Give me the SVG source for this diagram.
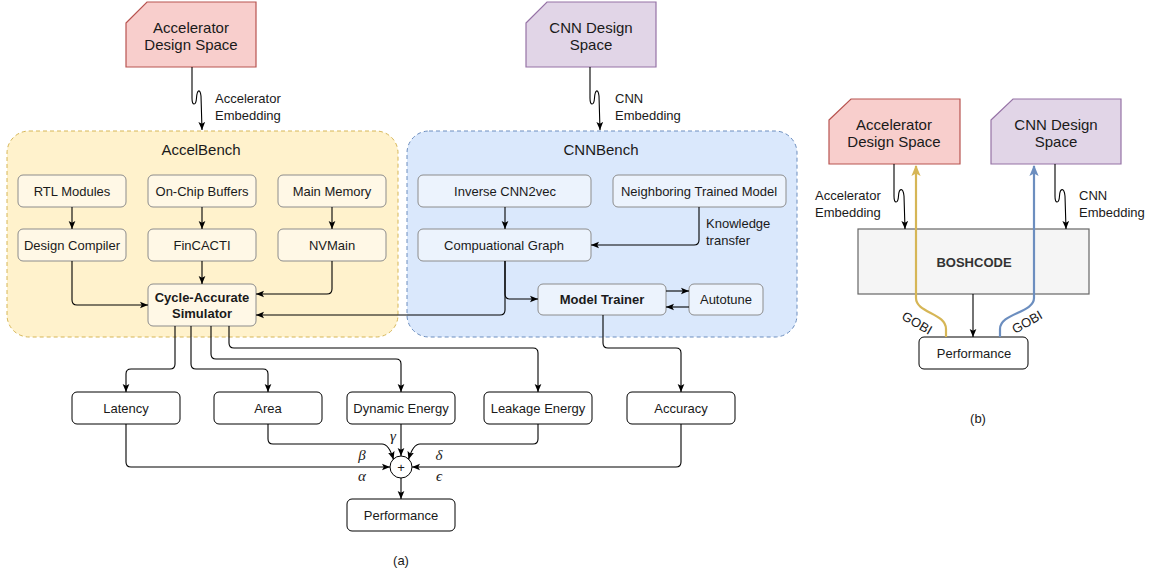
<svg xmlns="http://www.w3.org/2000/svg" width="1158" height="573" viewBox="0 0 1158 573">
  <defs>
    <style>
      text { font-family: "Liberation Sans", Arial, sans-serif; fill: #1a1a1a; }
      .t13 { font-size: 13px; text-anchor: middle; dominant-baseline: central; }
      .b13 { font-size: 13px; font-weight: bold; text-anchor: middle; dominant-baseline: central; }
      .t15 { font-size: 15px; text-anchor: middle; dominant-baseline: central; }
      .lbl { font-size: 13px; dominant-baseline: central; }
      .greek { font-family: "Liberation Serif", "DejaVu Serif", serif; font-style: italic; font-size: 15px; text-anchor: middle; dominant-baseline: central; }
      .cap { font-size: 13px; text-anchor: middle; dominant-baseline: central; }
      .accel-space { fill: #f8cecc; stroke: #b85450; stroke-width: 1.2; }
      .cnn-space { fill: #e1d5e7; stroke: #9673a6; stroke-width: 1.2; }
      .accel-box { fill: #fff2cc; stroke: #d6b656; stroke-dasharray: 4 3; }
      .cnn-box { fill: #dae8fc; stroke: #6c8ebf; stroke-dasharray: 4 3; }
      .accel-node { fill: #fff8e6; stroke: #8c8c8c; }
      .cnn-node { fill: #ecf3fd; stroke: #8c8c8c; }
      .plain { fill: #ffffff; stroke: #000000; }
      .bosh { fill: #f5f5f5; stroke: #666666; stroke-width: 1.2; }
      .edge { fill: none; stroke: #000000; stroke-width: 1.1; marker-end: url(#arr); }
      .gobi-y { fill: none; stroke: #d6b656; stroke-width: 2.2; marker-end: url(#arrY); }
      .gobi-b { fill: none; stroke: #6c8ebf; stroke-width: 2.2; marker-end: url(#arrB); }
    </style>
    <marker id="arr" viewBox="0 0 10 10" refX="10" refY="5" markerWidth="8" markerHeight="8" markerUnits="userSpaceOnUse" orient="auto">
      <path d="M0,0.8 L10,5 L0,9.2 L2.2,5 z" fill="#000"/>
    </marker>
    <marker id="arrY" viewBox="0 0 10 10" refX="9" refY="5" markerWidth="11" markerHeight="11" markerUnits="userSpaceOnUse" orient="auto">
      <path d="M0,0.8 L10,5 L0,9.2 L2.2,5 z" fill="#d6b656"/>
    </marker>
    <marker id="arrB" viewBox="0 0 10 10" refX="9" refY="5" markerWidth="11" markerHeight="11" markerUnits="userSpaceOnUse" orient="auto">
      <path d="M0,0.8 L10,5 L0,9.2 L2.2,5 z" fill="#6c8ebf"/>
    </marker>
  </defs>

  <!-- (a) containers -->
  <g id="accelbench">
    <rect class="accel-box" x="7" y="131" width="391" height="206" rx="22"/>
    <text class="t15" x="201" y="149">AccelBench</text>
  </g>
  <g id="cnnbench">
    <rect class="cnn-box" x="407" y="131" width="390" height="206" rx="22"/>
    <text class="t15" x="601" y="149">CNNBench</text>
  </g>

  <!-- (a) design spaces -->
  <g id="a-accel-space">
    <path class="accel-space" d="M126,23 L147,2 H256 V67 H126 Z"/>
    <text class="t15" x="191" y="27">Accelerator</text>
    <text class="t15" x="191" y="44">Design Space</text>
  </g>
  <g id="a-cnn-space">
    <path class="cnn-space" d="M526,23 L547,2 H656 V67 H526 Z"/>
    <text class="t15" x="591" y="27">CNN Design</text>
    <text class="t15" x="591" y="44">Space</text>
  </g>

  <!-- AccelBench nodes -->
  <g id="rtl-modules"><rect class="accel-node" x="18" y="175" width="108" height="32" rx="5"/><text class="t13" x="72" y="191">RTL Modules</text></g>
  <g id="on-chip-buffers"><rect class="accel-node" x="148" y="175" width="108" height="32" rx="5"/><text class="t13" x="202" y="191">On-Chip Buffers</text></g>
  <g id="main-memory"><rect class="accel-node" x="278" y="175" width="108" height="32" rx="5"/><text class="t13" x="332" y="191">Main Memory</text></g>
  <g id="design-compiler"><rect class="accel-node" x="18" y="229" width="108" height="32" rx="5"/><text class="t13" x="72" y="245">Design Compiler</text></g>
  <g id="fincacti"><rect class="accel-node" x="148" y="229" width="108" height="32" rx="5"/><text class="t13" x="202" y="245">FinCACTI</text></g>
  <g id="nvmain"><rect class="accel-node" x="278" y="229" width="108" height="32" rx="5"/><text class="t13" x="332" y="245">NVMain</text></g>
  <g id="simulator"><rect class="accel-node" x="148" y="284" width="108" height="42" rx="5"/><text class="b13" x="202" y="297">Cycle-Accurate</text><text class="b13" x="202" y="313">Simulator</text></g>

  <!-- CNNBench nodes -->
  <g id="inverse-cnn2vec"><rect class="cnn-node" x="418" y="175" width="173" height="32" rx="5"/><text class="t13" x="505" y="191">Inverse CNN2vec</text></g>
  <g id="neighboring-model"><rect class="cnn-node" x="613" y="175" width="173" height="32" rx="5"/><text class="t13" x="699" y="191">Neighboring Trained Model</text></g>
  <g id="computational-graph"><rect class="cnn-node" x="418" y="229" width="173" height="32" rx="5"/><text class="t13" x="504" y="245">Compuational Graph</text></g>
  <g id="model-trainer"><rect class="cnn-node" x="538" y="284" width="128" height="31" rx="5"/><text class="b13" x="602" y="299.5">Model Trainer</text></g>
  <g id="autotune"><rect class="cnn-node" x="689" y="284" width="74" height="31" rx="5"/><text class="t13" x="726" y="299.5">Autotune</text></g>

  <!-- metric nodes -->
  <g id="latency"><rect class="plain" x="72" y="392" width="108" height="32" rx="5"/><text class="t13" x="126" y="408">Latency</text></g>
  <g id="area"><rect class="plain" x="214" y="392" width="108" height="32" rx="5"/><text class="t13" x="268" y="408">Area</text></g>
  <g id="dynamic-energy"><rect class="plain" x="347" y="392" width="108" height="32" rx="5"/><text class="t13" x="401" y="408">Dynamic Energy</text></g>
  <g id="leakage-energy"><rect class="plain" x="484" y="392" width="108" height="32" rx="5"/><text class="t13" x="538" y="408">Leakage Energy</text></g>
  <g id="accuracy"><rect class="plain" x="627" y="392" width="108" height="32" rx="5"/><text class="t13" x="681" y="408">Accuracy</text></g>
  <g id="sum"><circle class="plain" cx="401" cy="467" r="11"/><text class="t13" x="401" y="467">+</text></g>
  <g id="a-performance"><rect class="plain" x="347" y="499" width="108" height="32" rx="5"/><text class="t13" x="401" y="515">Performance</text></g>

  <!-- (b) nodes -->
  <g id="b-accel-space">
    <path class="accel-space" d="M829,120 L851,99 H960 V164 H829 Z"/>
    <text class="t15" x="894" y="124">Accelerator</text>
    <text class="t15" x="894" y="141">Design Space</text>
  </g>
  <g id="b-cnn-space">
    <path class="cnn-space" d="M991,120 L1013,99 H1121 V164 H991 Z"/>
    <text class="t15" x="1056" y="124">CNN Design</text>
    <text class="t15" x="1056" y="141">Space</text>
  </g>
  <g id="boshcode">
    <rect class="bosh" x="858" y="229" width="231" height="65"/>
    <text class="b13" x="974" y="262" style="fill:#333333">BOSHCODE</text>
  </g>
  <g id="b-performance"><rect class="plain" x="919" y="337" width="109" height="32" rx="5"/><text class="t13" x="974" y="353">Performance</text></g>

  <!-- connectors -->
  <g id="connectors">
    <!-- embeddings into the benches -->
    <path class="edge" d="M192,67 V98 C192,106 196,106 196.5,98 C197,90 200,88 201,96 L202,130"/>
    <path class="edge" d="M590,67 V98 C590,106 594,106 594.5,98 C595,90 598,88 599,96 L600,130"/>

    <!-- AccelBench flow -->
    <path class="edge" d="M72,207 V229"/>
    <path class="edge" d="M202,207 V229"/>
    <path class="edge" d="M332,207 V229"/>
    <path class="edge" d="M202,261 V284"/>
    <path class="edge" d="M72,261 V300 Q72,305 77,305 H148"/>
    <path class="edge" d="M332,261 V289 Q332,294 327,294 H256"/>

    <!-- CNNBench flow -->
    <path class="edge" d="M505,207 V229"/>
    <path class="edge" d="M699,207 V240 Q699,245 694,245 H591"/>
    <path class="edge" d="M505,261 V310 Q505,315 500,315 H256"/>
    <path class="edge" d="M505,261 V294 Q505,299 510,299 H538"/>
    <path class="edge" d="M666,291 H689"/>
    <path class="edge" d="M689,307 H666"/>

    <!-- simulator / trainer outputs -->
    <path class="edge" d="M175,326 V364 Q175,369 170,369 H131 Q126,369 126,374 V392"/>
    <path class="edge" d="M191,326 V364 Q191,369 196,369 H263 Q268,369 268,374 V392"/>
    <path class="edge" d="M211,326 V354 Q211,359 216,359 H396 Q401,359 401,364 V392"/>
    <path class="edge" d="M229,326 V343 Q229,348 234,348 H533 Q538,348 538,353 V392"/>
    <path class="edge" d="M603,315 V343 Q603,348 608,348 H676 Q681,348 681,353 V392"/>

    <!-- weighted sum -->
    <path class="edge" d="M126,424 V462 Q126,467 131,467 H390"/>
    <path class="edge" d="M268,424 V439 Q268,444 273,444 H382 C388,444 391,451 393.5,459.5"/>
    <path class="edge" d="M401,424 V456"/>
    <path class="edge" d="M538,424 V439 Q538,444 533,444 H420 C414,444 411,451 408.5,459.5"/>
    <path class="edge" d="M681,424 V462 Q681,467 676,467 H412"/>
    <path class="edge" d="M401,478 V499"/>

    <!-- (b) embeddings, output and GOBI feedback -->
    <path class="edge" d="M894,164 V196 C894,204 898,204 898.5,196 C899,188 903,187 904,196 L905,229"/>
    <path class="edge" d="M1055,164 V196 C1055,204 1059,204 1059.5,196 C1060,188 1064,187 1065,196 L1066,229"/>
    <path class="edge" d="M973,294 V337"/>
    <path class="gobi-y" d="M946,337 V329 C946,313 916,313 916,298 V166"/>
    <path class="gobi-b" d="M1000,337 V329 C1000,313 1034,313 1034,298 V166"/>
  </g>

  <!-- edge labels -->
  <g id="edge-labels">
    <text class="lbl" x="215" y="98">Accelerator</text>
    <text class="lbl" x="215" y="115">Embedding</text>
    <text class="lbl" x="615" y="98">CNN</text>
    <text class="lbl" x="615" y="115">Embedding</text>
    <text class="lbl" x="706" y="223">Knowledge</text>
    <text class="lbl" x="706" y="240">transfer</text>
    <text class="greek" x="393" y="436">γ</text>
    <text class="greek" x="362" y="455">β</text>
    <text class="greek" x="362" y="476">α</text>
    <text class="greek" x="439" y="455">δ</text>
    <text class="greek" x="439" y="476">ϵ</text>
    <text class="lbl" x="815" y="195">Accelerator</text>
    <text class="lbl" x="815" y="212">Embedding</text>
    <text class="lbl" x="1079" y="195">CNN</text>
    <text class="lbl" x="1079" y="212">Embedding</text>
    <text class="t13" x="917" y="323" transform="rotate(30 917 323)">GOBI</text>
    <text class="t13" x="1027" y="322" transform="rotate(-30 1027 322)">GOBI</text>
  </g>

  <!-- captions -->
  <text class="cap" x="401" y="560">(a)</text>
  <text class="cap" x="978" y="418">(b)</text>
</svg>
